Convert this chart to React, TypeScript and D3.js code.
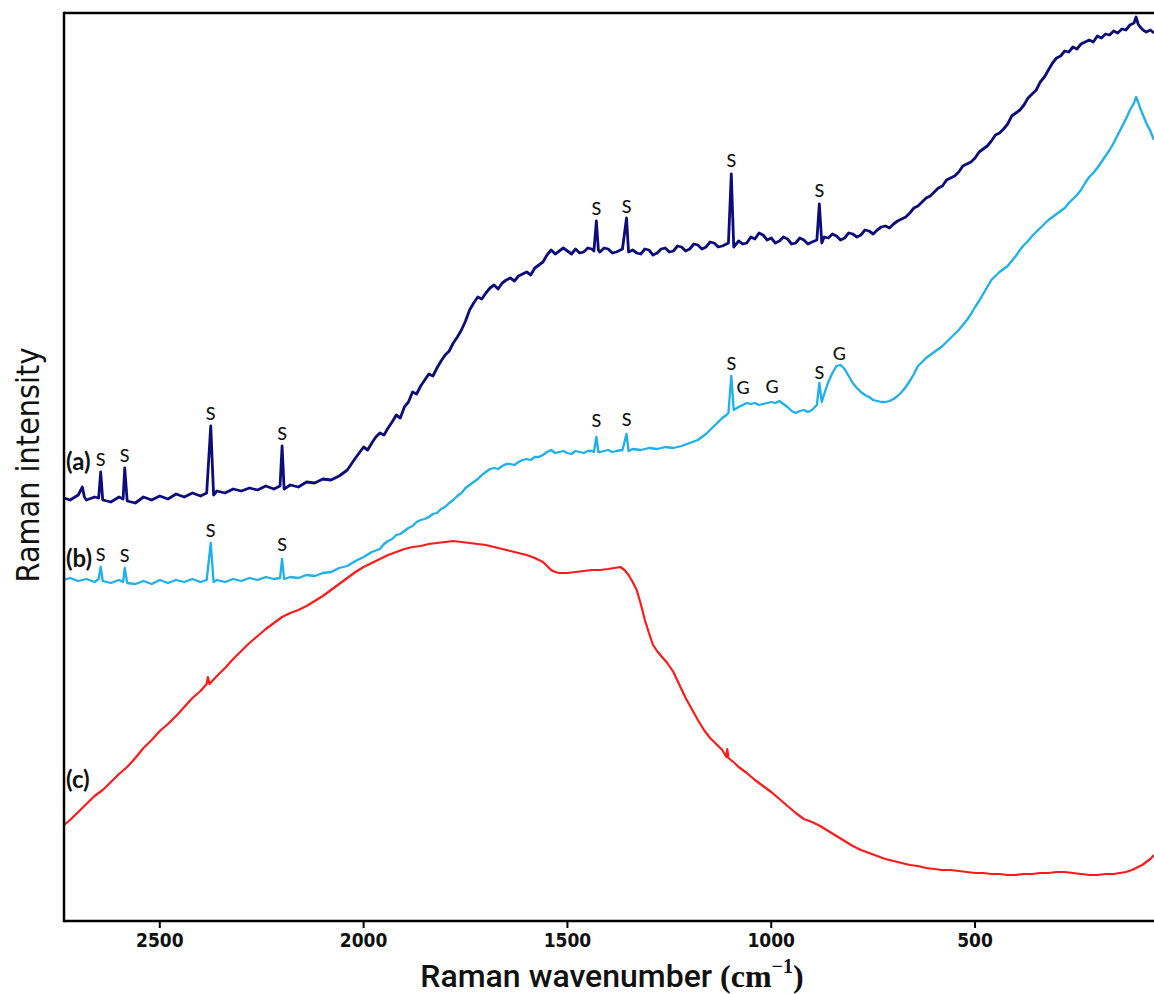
import React from "react";
import * as d3 from "d3";

// ---- Data (wavenumber cm^-1, intensity a.u.) ----
const seriesA: [number, number][] = [
  [2735, 423], [2720, 421], [2700, 426], [2690, 434], [2685, 424], [2680, 421], [2660, 424], [2650, 423],
  [2645, 449], [2640, 421], [2620, 419], [2600, 424], [2590, 422], [2586, 453], [2580, 420], [2560, 418],
  [2540, 424], [2520, 421], [2500, 425], [2480, 422], [2460, 427], [2440, 424], [2420, 428], [2400, 425],
  [2385, 428], [2375, 495], [2368, 426], [2360, 430], [2340, 428], [2320, 432], [2300, 430], [2280, 433],
  [2260, 431], [2240, 435], [2220, 432], [2205, 435], [2200, 475], [2195, 432], [2180, 436], [2160, 434],
  [2140, 439], [2120, 438], [2100, 442], [2080, 441], [2060, 445], [2040, 451], [2020, 463], [2000, 474],
  [1990, 471], [1980, 478], [1970, 484], [1960, 488], [1950, 486], [1940, 493], [1930, 499], [1920, 506],
  [1910, 503], [1900, 514], [1890, 519], [1880, 529], [1870, 527], [1860, 535], [1850, 541], [1840, 547],
  [1830, 545], [1820, 553], [1810, 560], [1800, 566], [1790, 570], [1780, 578], [1770, 584], [1760, 591],
  [1750, 600], [1740, 611], [1730, 618], [1720, 624], [1710, 622], [1700, 628], [1690, 633], [1680, 636],
  [1670, 632], [1660, 638], [1650, 641], [1640, 643], [1630, 640], [1620, 645], [1610, 647], [1600, 649],
  [1590, 646], [1580, 653], [1570, 656], [1560, 659], [1550, 666], [1540, 671], [1530, 667], [1520, 670],
  [1510, 673], [1500, 670], [1490, 667], [1480, 672], [1470, 668], [1460, 669], [1450, 673], [1440, 672],
  [1435, 670], [1429, 700], [1424, 671], [1420, 669], [1410, 673], [1400, 672], [1390, 668], [1380, 669],
  [1365, 672], [1355, 703], [1350, 669], [1340, 671], [1330, 668], [1320, 667], [1310, 672], [1300, 671],
  [1290, 666], [1280, 668], [1270, 672], [1260, 673], [1250, 669], [1240, 670], [1230, 675], [1220, 674],
  [1210, 670], [1200, 672], [1190, 677], [1180, 676], [1170, 672], [1160, 674], [1150, 679], [1140, 678],
  [1130, 674], [1120, 675], [1105, 678], [1098, 747], [1092, 674], [1080, 680], [1070, 677], [1060, 678],
  [1050, 684], [1040, 682], [1030, 688], [1020, 686], [1010, 681], [1000, 683], [990, 678], [980, 680],
  [970, 684], [960, 682], [950, 677], [940, 678], [930, 683], [920, 681], [910, 677], [900, 679],
  [888, 681], [882, 717], [876, 678], [870, 684], [860, 683], [850, 687], [840, 685], [830, 681],
  [820, 683], [810, 688], [800, 687], [790, 684], [780, 686], [770, 691], [760, 690], [750, 687],
  [740, 691], [730, 694], [720, 695], [710, 693], [700, 697], [690, 700], [680, 702], [670, 704],
  [660, 708], [650, 713], [640, 715], [630, 719], [620, 723], [610, 725], [600, 729], [590, 733],
  [580, 735], [570, 741], [560, 743], [550, 745], [540, 749], [530, 755], [520, 757], [510, 759],
  [500, 763], [490, 769], [480, 772], [470, 775], [460, 780], [450, 786], [440, 788], [430, 792],
  [420, 797], [410, 805], [400, 808], [390, 811], [380, 816], [370, 823], [360, 827], [350, 831],
  [340, 839], [330, 844], [320, 851], [310, 858], [300, 863], [290, 865], [280, 870], [270, 869],
  [260, 874], [250, 872], [240, 877], [230, 879], [220, 881], [210, 879], [200, 885], [190, 883],
  [180, 887], [170, 886], [160, 890], [150, 888], [140, 892], [130, 891], [120, 896], [110, 898],
  [105, 904], [100, 897], [95, 894], [88, 891], [80, 889], [70, 891], [61, 888],
];

const seriesB: [number, number][] = [
  [2735, 341], [2720, 343], [2700, 340], [2680, 342], [2660, 339], [2650, 342], [2645, 354], [2640, 340],
  [2620, 338], [2600, 341], [2590, 339], [2586, 353], [2580, 338], [2560, 337], [2540, 340], [2520, 337],
  [2500, 341], [2480, 338], [2460, 341], [2440, 339], [2420, 342], [2400, 339], [2385, 341], [2375, 378],
  [2368, 339], [2360, 341], [2340, 339], [2320, 342], [2300, 340], [2280, 343], [2260, 341], [2240, 344],
  [2220, 342], [2205, 343], [2200, 362], [2195, 342], [2180, 344], [2160, 343], [2140, 346], [2120, 345],
  [2100, 348], [2080, 349], [2060, 353], [2040, 355], [2020, 360], [2000, 364], [1980, 369], [1960, 372],
  [1950, 377], [1940, 380], [1930, 382], [1920, 386], [1910, 387], [1900, 390], [1890, 393], [1880, 395],
  [1870, 399], [1860, 401], [1850, 402], [1840, 404], [1830, 407], [1820, 408], [1810, 412], [1800, 414],
  [1790, 418], [1780, 421], [1770, 425], [1760, 428], [1750, 433], [1740, 436], [1730, 439], [1720, 442],
  [1710, 446], [1700, 449], [1690, 452], [1680, 453], [1670, 452], [1660, 455], [1650, 457], [1640, 457],
  [1630, 456], [1620, 459], [1610, 461], [1600, 462], [1590, 461], [1580, 464], [1570, 464], [1560, 466],
  [1550, 469], [1540, 471], [1530, 468], [1520, 469], [1510, 470], [1500, 468], [1490, 467], [1480, 470],
  [1470, 469], [1460, 468], [1450, 470], [1440, 470], [1435, 469], [1429, 484], [1424, 469], [1420, 469],
  [1410, 470], [1400, 471], [1390, 469], [1380, 470], [1365, 471], [1355, 487], [1350, 470], [1340, 472],
  [1320, 471], [1300, 473], [1280, 472], [1260, 474], [1240, 473], [1220, 475], [1200, 478], [1180, 481],
  [1170, 484], [1160, 487], [1150, 491], [1140, 495], [1130, 499], [1120, 503], [1110, 506], [1105, 508],
  [1098, 545], [1092, 511], [1080, 514], [1070, 516], [1060, 518], [1050, 517], [1040, 518], [1030, 516],
  [1020, 517], [1010, 518], [1000, 519], [990, 518], [980, 520], [970, 517], [960, 514], [950, 510],
  [940, 508], [930, 510], [920, 511], [910, 509], [900, 511], [888, 516], [882, 538], [876, 519],
  [870, 527], [860, 539], [850, 548], [840, 555], [830, 556], [820, 552], [810, 545], [800, 538],
  [790, 533], [780, 529], [770, 526], [760, 524], [750, 521], [740, 520], [730, 519], [720, 519],
  [710, 520], [700, 522], [690, 525], [680, 529], [670, 534], [660, 540], [650, 547], [640, 555],
  [630, 559], [620, 563], [610, 566], [600, 569], [590, 572], [580, 575], [570, 579], [560, 583],
  [550, 587], [540, 591], [530, 596], [520, 601], [510, 607], [500, 614], [490, 620], [480, 627],
  [470, 634], [460, 641], [450, 645], [440, 649], [430, 652], [420, 655], [410, 660], [400, 665],
  [390, 671], [380, 676], [370, 680], [360, 685], [350, 689], [340, 693], [330, 697], [320, 701],
  [310, 704], [300, 707], [290, 710], [280, 713], [270, 718], [260, 722], [250, 726], [240, 731],
  [230, 738], [220, 744], [210, 748], [200, 753], [190, 759], [180, 765], [170, 771], [160, 778],
  [150, 786], [140, 794], [130, 802], [120, 811], [110, 818], [105, 824], [100, 819], [95, 813],
  [88, 806], [80, 798], [70, 790], [61, 781],
];

const seriesC: [number, number][] = [
  [2735, 96], [2720, 101], [2700, 109], [2680, 117], [2660, 125], [2640, 131], [2620, 139], [2600, 147],
  [2580, 154], [2560, 163], [2540, 173], [2520, 181], [2500, 190], [2480, 197], [2460, 205], [2440, 214],
  [2420, 223], [2400, 230], [2385, 237], [2382, 244], [2378, 237], [2360, 245], [2340, 253], [2320, 262],
  [2300, 270], [2280, 278], [2260, 285], [2240, 292], [2220, 298], [2200, 304], [2180, 308], [2160, 311],
  [2140, 315], [2120, 320], [2100, 325], [2080, 331], [2060, 337], [2040, 343], [2020, 349], [2000, 354],
  [1980, 358], [1960, 362], [1940, 366], [1920, 369], [1900, 372], [1880, 374], [1860, 375], [1840, 377],
  [1820, 378], [1800, 379], [1780, 380], [1760, 379], [1740, 378], [1720, 377], [1700, 376], [1680, 374],
  [1660, 372], [1640, 370], [1620, 368], [1600, 366], [1580, 363], [1560, 359], [1550, 355], [1540, 351],
  [1530, 349], [1520, 348], [1500, 348], [1480, 349], [1460, 350], [1440, 351], [1420, 351], [1400, 352],
  [1385, 353], [1370, 354], [1360, 351], [1350, 346], [1340, 339], [1330, 331], [1320, 317], [1310, 301],
  [1300, 288], [1290, 276], [1280, 270], [1270, 265], [1255, 258], [1240, 249], [1225, 236], [1210, 223],
  [1195, 212], [1180, 201], [1165, 191], [1150, 183], [1135, 177], [1120, 171], [1110, 164], [1108, 172],
  [1105, 163], [1090, 158], [1080, 154], [1060, 148], [1040, 141], [1020, 135], [1000, 129], [980, 122],
  [960, 115], [940, 108], [920, 102], [900, 99], [880, 95], [860, 90], [840, 85], [820, 80],
  [800, 75], [780, 71], [760, 68], [740, 65], [720, 62], [700, 60], [680, 58], [660, 56],
  [640, 55], [620, 53], [600, 52], [580, 51], [560, 51], [540, 50], [520, 49], [500, 48],
  [480, 48], [460, 47], [440, 47], [420, 46], [400, 46], [380, 47], [360, 47], [340, 48],
  [320, 48], [300, 49], [280, 49], [260, 48], [240, 47], [220, 46], [200, 46], [180, 47],
  [160, 47], [145, 48], [130, 49], [115, 51], [100, 54], [90, 56], [80, 59], [70, 62], [61, 66],
];

const peakLabelsA = [
  { wn: 2645, i: 455, t: "S" }, { wn: 2586, i: 459, t: "S" }, { wn: 2375, i: 501, t: "S" },
  { wn: 2200, i: 481, t: "S" }, { wn: 1429, i: 706, t: "S" }, { wn: 1355, i: 708, t: "S" },
  { wn: 1098, i: 754, t: "S" }, { wn: 882, i: 724, t: "S" },
];
const peakLabelsB = [
  { wn: 2645, i: 360, t: "S" }, { wn: 2586, i: 359, t: "S" }, { wn: 2375, i: 384, t: "S" },
  { wn: 2200, i: 370, t: "S" }, { wn: 1429, i: 494, t: "S" }, { wn: 1355, i: 495, t: "S" },
  { wn: 1098, i: 551, t: "S" }, { wn: 1069, i: 527, t: "G" }, { wn: 998, i: 528, t: "G" },
  { wn: 882, i: 542, t: "S" }, { wn: 833, i: 561, t: "G" },
];
const seriesNames = [
  { t: "(a)", wn: 2730, i: 451 },
  { t: "(b)", wn: 2730, i: 354 },
  { t: "(c)", wn: 2730, i: 133 },
];
const xTicks = [2500, 2000, 1500, 1000, 500];

const W = 1154;
const H = 994;
const left = 64, right = 1154, top = 13, bottom = 921;

export default function App() {
  const x = d3.scaleLinear().domain([2735, 61]).range([left, right]);
  const y = d3.scaleLinear().domain([0, 908]).range([bottom, top]);
  const line = d3
    .line<[number, number]>()
    .x((d) => x(d[0]))
    .y((d) => y(d[1]));

  const labelFont = "Lato, 'Open Sans', sans-serif";
  return (
    <svg
      width={W}
      height={H}
      style={{ position: "absolute", left: 0, top: 0, background: "#fff" }}
    >
      <defs>
        <clipPath id="plot">
          <rect x={left} y={top} width={right - left} height={bottom - top} />
        </clipPath>
      </defs>
      <g clipPath="url(#plot)" fill="none" strokeLinejoin="round">
        <path d={line(seriesC) || ""} stroke="#ff1a1a" strokeWidth={2.2} />
        <path d={line(seriesB) || ""} stroke="#1cb0ec" strokeWidth={2.3} />
        <path d={line(seriesA) || ""} stroke="#0c0c7c" strokeWidth={2.8} />
      </g>

      {/* frame */}
      <g stroke="#000" strokeWidth={2.5} fill="none">
        <line x1={left} y1={top} x2={right} y2={top} />
        <line x1={left} y1={top - 1.2} x2={left} y2={bottom + 1.2} />
        <line x1={left} y1={bottom} x2={right} y2={bottom} />
      </g>
      {xTicks.map((t) => (
        <g key={t}>
          <line x1={x(t)} x2={x(t)} y1={bottom} y2={bottom + 7} stroke="#000" strokeWidth={2} />
          <text
            x={x(t)}
            y={947}
            textAnchor="middle"
            fontFamily="'Liberation Sans Narrow', 'DejaVu Sans Condensed', sans-serif"
            fontWeight="bold"
            fontSize={19}
            fill="#111"
          >
            {t}
          </text>
        </g>
      ))}

      {/* peak labels */}
      {[...peakLabelsA, ...peakLabelsB].map((p, k) => (
        <text
          key={k}
          x={x(p.wn)}
          y={y(p.i)}
          textAnchor="middle"
          fontFamily={labelFont}
          fontWeight={500}
          fontSize={18}
          fill="#111"
        >
          {p.t}
        </text>
      ))}
      {seriesNames.map((s) => (
        <text
          key={s.t}
          x={x(s.wn)}
          y={y(s.i)}
          fontFamily={labelFont}
          fontWeight="bold"
          fontSize={24}
          fill="#111"
        >
          {s.t}
        </text>
      ))}

      {/* axis titles */}
      <text x={612} y={987} textAnchor="middle" fontSize={32} fill="#111">
        <tspan fontFamily="Roboto, sans-serif" fontWeight={500}>Raman wavenumber </tspan>
        <tspan fontFamily="'Liberation Serif', serif" fontWeight="bold">(cm</tspan>
        <tspan fontFamily="'Liberation Serif', serif" fontWeight="bold" fontSize={20} dy={-14}>−1</tspan>
        <tspan fontFamily="'Liberation Serif', serif" fontWeight="bold" dy={14}>)</tspan>
      </text>
      <text
        transform={`translate(39, 465) rotate(-90)`}
        textAnchor="middle"
        fontFamily="'Liberation Sans Narrow', 'DejaVu Sans Condensed', sans-serif"
        fontWeight={500}
        fontSize={32}
        fill="#111"
      >
        Raman intensity
      </text>
    </svg>
  );
}
